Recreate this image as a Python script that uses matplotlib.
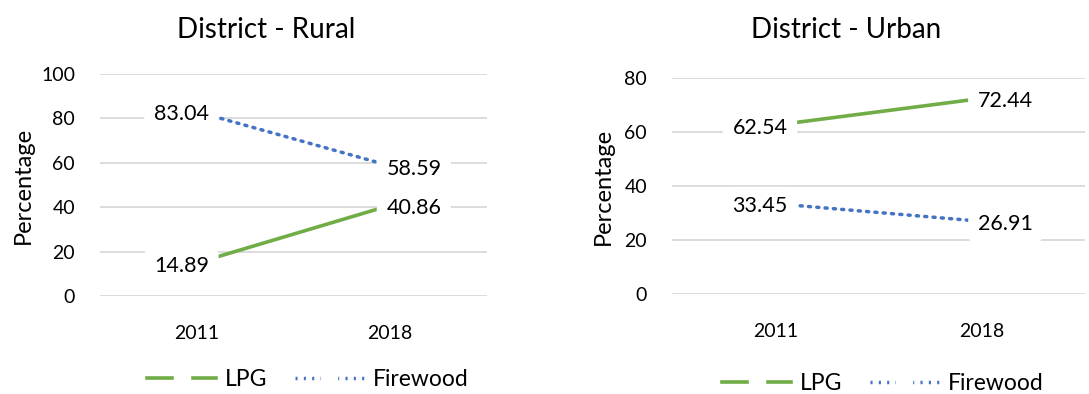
import matplotlib.pyplot as plt
from matplotlib.lines import Line2D

plt.rcParams['font.family'] = ['Lato', 'DejaVu Sans']

years = ['2011', '2018']
rural_lpg = [14.89, 40.86]
rural_fire = [83.04, 58.59]
urban_lpg = [62.54, 72.44]
urban_fire = [33.45, 26.91]

green = '#70AD47'
blue = '#4472C4'
grid_c = '#D9D9D9'

W, H = 1089, 394
fig = plt.figure(figsize=(W / 100, H / 100), dpi=100)


def px(x0, y0, x1, y1):
    # pixel box -> figure fraction rect
    return [x0 / W, 1 - y1 / H, (x1 - x0) / W, (y1 - y0) / H]


def panel(rect, lpg, fire, ymax, title, tpos, ylpos, legpos):
    ax = fig.add_axes(rect)
    x = [0, 1]
    ax.plot(x, lpg, color=green, lw=2.6, solid_capstyle='butt', zorder=3)
    ax.plot(x, fire, color=blue, lw=2.5, linestyle=(0, (0.6, 1.8)),
            dash_capstyle='round', zorder=3)
    ax.set_xlim(-0.5, 1.5)
    ax.set_ylim(0, ymax)
    ax.set_yticks(range(0, ymax + 1, 20))
    ax.set_xticks(x)
    ax.set_xticklabels(years)
    ax.tick_params(length=0, labelsize=14, colors='black')
    ax.tick_params(axis='y', pad=18)
    ax.tick_params(axis='x', pad=21)
    ax.grid(axis='y', color=grid_c, lw=1.3)
    ax.set_axisbelow(True)
    for s in ax.spines.values():
        s.set_visible(False)

    for vals in (lpg, fire):
        for i, v in enumerate(vals):
            dx = -11 if i == 0 else 17
            ax.annotate(f'{v:.2f}', (i, v), xytext=(dx, -2),
                        textcoords='offset points', ha='center', va='center',
                        fontsize=15.5, zorder=4,
                        bbox=dict(boxstyle='round,pad=0.45', fc='white', ec='none'))

    fig.text(tpos[0] / W, 1 - tpos[1] / H, title, ha='center', va='center', fontsize=20)
    fig.text(ylpos[0] / W, 1 - ylpos[1] / H, 'Percentage', rotation=90,
             ha='center', va='center', fontsize=17)

    handles = [
        Line2D([], [], color=green, lw=2.6, marker='s', markersize=11,
               markerfacecolor='white', markeredgecolor='white'),
        Line2D([], [], color=blue, lw=2.5, linestyle=(0, (0.6, 1.8)),
               marker='s', markersize=11, markerfacecolor='white',
               markeredgecolor='white'),
    ]
    fig.legend(handles, ['LPG', 'Firewood'], loc='center',
               bbox_to_anchor=(legpos[0] / W, 1 - legpos[1] / H),
               ncol=2, frameon=False, fontsize=16.5, handlelength=3.0,
               numpoints=1, columnspacing=1.2, handletextpad=0.4)
    return ax


panel(px(100, 74, 487, 296), rural_lpg, rural_fire, 100,
      'District - Rural', (266, 30), (23, 185), (308, 380))
panel(px(672, 78, 1085, 294), urban_lpg, urban_fire, 80,
      'District - Urban', (846, 30), (603, 186), (883, 384))

fig.savefig('out.png', dpi=100)
